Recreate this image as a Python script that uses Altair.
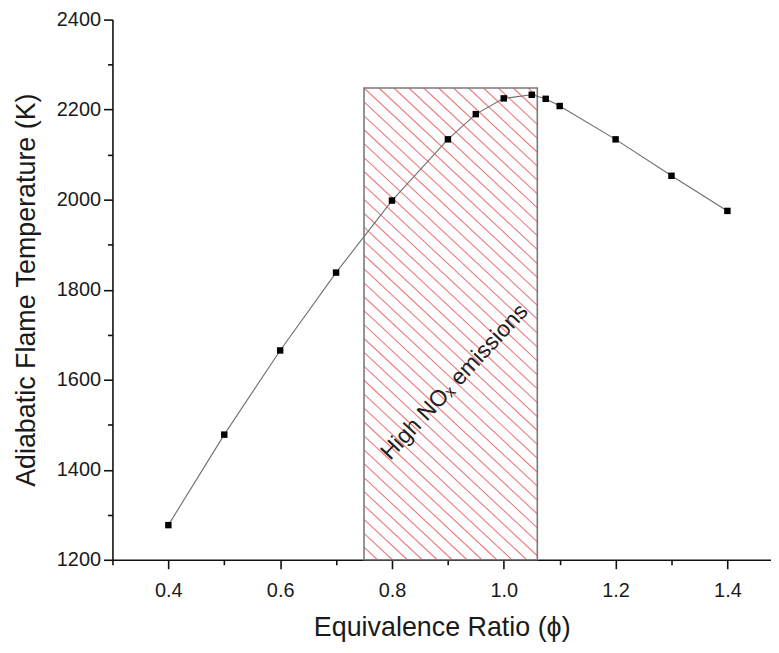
import math
import altair as alt
import pandas as pd

# ---- data ----
phi = [0.4, 0.5, 0.6, 0.7, 0.8, 0.9, 0.95, 1.0, 1.05, 1.075, 1.1, 1.2, 1.3, 1.4]
temp = [1277, 1478, 1665, 1838, 1998, 2134, 2190, 2225, 2233, 2224, 2208, 2134, 2053, 1975]

region_x = [0.75, 1.06]
region_y = [1200, 2248]
label_text = ["High NOₓ emissions"]
label_phi = [0.912]
label_temp = [1595]

x_domain = [0.3, 1.478]
y_domain = [1200, 2400]
x_ticks = [round(0.3 + 0.1 * i, 1) for i in range(12)]
y_ticks = [1200 + 100 * i for i in range(13)]

W, H = 662, 543
FONT = "Liberation Sans"

points = pd.DataFrame({"phi": phi, "T": temp})
region = pd.DataFrame({"x": [region_x[0]], "x2": [region_x[1]],
                       "y": [region_y[0]], "y2": [region_y[1]]})

# ---- hatch lines derived from the region rectangle ----
sx = W / (x_domain[1] - x_domain[0])
sy = H / (y_domain[1] - y_domain[0])
Wr = (region_x[1] - region_x[0]) * sx
Hr = (region_y[1] - region_y[0]) * sy
theta = math.radians(43)
tn = math.tan(theta)
step = 15.0
rows = []
k0 = math.floor(-Hr / tn / step) - 1
k1 = math.ceil(Wr / step) + 1
for k in range(k0, k1 + 1):
    c = k * step
    u0 = max(0.0, c)
    u1 = min(Wr, c + Hr / tn)
    if u1 - u0 <= 0.5:
        continue
    v0 = (u0 - c) * tn
    v1 = (u1 - c) * tn
    rows.append({
        "x": region_x[0] + u0 / sx, "y": region_y[1] - v0 / sy,
        "x2": region_x[0] + u1 / sx, "y2": region_y[1] - v1 / sy,
    })
hatch = pd.DataFrame(rows)

xscale = alt.Scale(domain=x_domain, nice=False, zero=False)
yscale = alt.Scale(domain=y_domain, nice=False, zero=False)

x_axis = alt.Axis(
    values=x_ticks,
    title="Equivalence Ratio (ϕ)",
    labelExpr="round(datum.value*10) % 2 == 1 ? '' : format(datum.value, '.1f')",
    tickSize={"condition": {"test": "round(datum.value*10) % 2 == 1", "value": 5}, "value": 9},
    grid=False,
    labelPadding=12,
    titlePadding=14,
)
y_axis = alt.Axis(
    values=y_ticks,
    title="Adiabatic Flame Temperature (K)",
    labelExpr="round(datum.value/100) % 2 == 1 ? '' : format(datum.value, 'd')",
    tickSize={"condition": {"test": "round(datum.value/100) % 2 == 1", "value": 5}, "value": 9},
    grid=False,
    labelPadding=3,
    titlePadding=16,
)

hatch_layer = alt.Chart(hatch).mark_rule(color="#ec7b7e", strokeWidth=1.1).encode(
    x=alt.X("x:Q", scale=xscale, axis=x_axis),
    y=alt.Y("y:Q", scale=yscale, axis=y_axis),
    x2="x2:Q",
    y2="y2:Q",
)

rect_layer = alt.Chart(region).mark_rect(
    fill="transparent", stroke="#7a7a7a", strokeWidth=1.6
).encode(x="x:Q", x2="x2:Q", y="y:Q", y2="y2:Q")

line_layer = alt.Chart(points).mark_line(color="#6e6e6e", strokeWidth=1.1).encode(
    x="phi:Q", y="T:Q"
)

point_layer = alt.Chart(points).mark_point(
    shape="square", filled=True, color="black", size=42, opacity=1
).encode(x="phi:Q", y="T:Q")

text_layer = alt.Chart(pd.DataFrame({"t": label_text, "x": label_phi, "y": label_temp})).mark_text(
    font=FONT, fontSize=23, angle=313, color="#222222", align="center", baseline="middle"
).encode(x="x:Q", y="y:Q", text="t:N")

chart = alt.layer(hatch_layer, rect_layer, line_layer, point_layer, text_layer).properties(
    width=W, height=H,
    autosize=alt.AutoSizeParams(type="none"),
    padding={"left": 105, "top": 10, "right": 0, "bottom": 82},
).configure_view(stroke=None).configure_axis(
    labelFont=FONT, titleFont=FONT,
    labelFontSize=20, titleFontSize=27, titleFontWeight="normal",
    labelColor="#1a1a1a", titleColor="#1a1a1a",
    domainColor="#111111", domainWidth=1.6,
    tickColor="#111111", tickWidth=1.6,
)

chart.save("out.html", embed_options={"renderer": "svg", "actions": False})
